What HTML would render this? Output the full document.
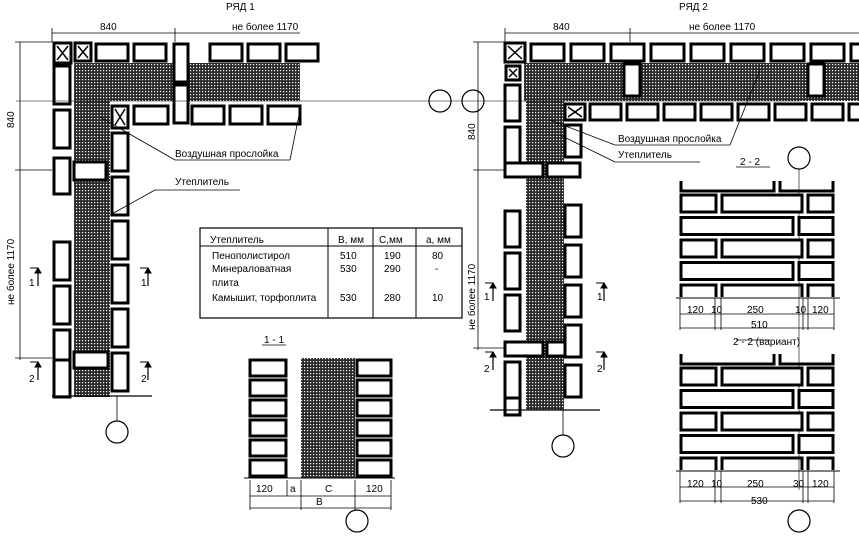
<!DOCTYPE html><html><head><meta charset="utf-8"><style>
body{margin:0;background:#fff}svg{display:block}
text{font-family:"Liberation Sans",sans-serif;font-size:10px;fill:#000}
</style></head><body>
<svg id="s" width="859" height="540" viewBox="0 0 859 540" xmlns="http://www.w3.org/2000/svg">
<defs><pattern id="h" width="3" height="3" patternUnits="userSpaceOnUse"><rect width="3" height="3" fill="#2a2a2a"/><rect x="1" y="1" width="1.2" height="1.2" fill="#fff"/></pattern></defs>
<g id="g" fill="none" stroke="#000"></g>
<text x="226" y="10">РЯД  1</text><text x="679" y="10">РЯД  2</text>
<text x="100" y="30">840</text><text x="232" y="30">не более 1170</text>
<text x="553" y="30">840</text><text x="689" y="30">не более 1170</text>
<text x="175" y="157">Воздушная  прослойка</text><text x="175" y="185">Утеплитель</text>
<text x="618" y="142">Воздушная  прослойка</text><text x="618" y="158">Утеплитель</text>
<text transform="translate(14,128) rotate(-90)">840</text>
<text transform="translate(14,305) rotate(-90)">не более 1170</text>
<text transform="translate(475,140) rotate(-90)">840</text>
<text transform="translate(475,330) rotate(-90)">не более 1170</text>
<text x="29" y="286">1</text><text x="141" y="286">1</text><text x="29" y="382">2</text><text x="141" y="382">2</text>
<text x="484" y="300">1</text><text x="597" y="300">1</text><text x="484" y="372">2</text><text x="597" y="372">2</text>
<text x="264" y="343">1  -  1</text><text x="740" y="165">2  -  2</text><text x="733" y="345">2  -  2 (вариант)</text>
<text x="210" y="243">Утеплитель</text><text x="338" y="243">В, мм</text><text x="379" y="243">С,мм</text><text x="426" y="243">а, мм</text>
<text x="212" y="259">Пенополистирол</text><text x="340" y="259">510</text><text x="384" y="259">190</text><text x="432" y="259">80</text>
<text x="212" y="272">Минераловатная</text><text x="340" y="272">530</text><text x="384" y="272">290</text><text x="435" y="272">-</text>
<text x="212" y="286">плита</text>
<text x="212" y="301">Камышит, торфоплита</text><text x="340" y="301">530</text><text x="384" y="301">280</text><text x="432" y="301">10</text>
<text x="256" y="492">120</text><text x="290" y="492">a</text><text x="325" y="492">C</text><text x="366" y="492">120</text><text x="316" y="505">B</text>
<text x="687" y="313">120</text><text x="711" y="313">10</text><text x="747" y="313">250</text><text x="795" y="313">10</text><text x="812" y="313">120</text><text x="751" y="328">510</text>
<text x="687" y="487">120</text><text x="711" y="487">10</text><text x="747" y="487">250</text><text x="793" y="487">30</text><text x="812" y="487">120</text><text x="751" y="504">530</text>
</svg>
<script>
const g=document.getElementById('g');let o='';
const R=(x,y,w,h,f,sw)=>o+=`<rect x="${x}" y="${y}" width="${w}" height="${h}" fill="${f||'#fff'}" stroke="#000" stroke-width="${f?0:(sw||3)}"/>`;
const L=(a,b,c,d,w)=>o+=`<line x1="${a}" y1="${b}" x2="${c}" y2="${d}" stroke-width="${w||0.8}"/>`;
const C=(x,y)=>o+=`<circle cx="${x}" cy="${y}" r="11" fill="#fff" stroke-width="1.2"/>`;
const X=(x,y,w,h)=>{R(x,y,w,h);L(x+3,y+3,x+w-3,y+h-3,1.5);L(x+w-3,y+3,x+3,y+h-3,1.5)};
// LEFT plan
R(74,63,226,38,'url(#h)');R(74,63,36,334,'url(#h)');
X(54,43,17,20);X(75,43,16,18);for(let x=96;x<300;x+=38){if(x>165&&x<195)continue;R(x,44,32,17)}
R(174,44,14,38);R(174,85,14,38);
for(let y=66;y<360;y+=44)if(y<150||y>200)R(54,y,16,38);R(54,158,16,36);R(54,360,16,37);
R(74,162,32,18);R(74,352,34,16);
X(112,106,16,22);for(let x=192;x<300;x+=38)R(x,106,32,18);R(134,106,34,18);
for(let y=133;y<390;y+=44)R(112,y,16,38);
L(52,396,152,396,1.2);
// RIGHT plan
R(524,63,335,38,'url(#h)');R(526,63,38,347,'url(#h)');
X(505,43,20,19);for(let x=531;x<859;x+=40)R(x,44,33,17);
X(506,66,14,14);R(624,64,16,32);R(808,64,16,32);
for(let y=85;y<410;y+=42)if((y<155||y>180)&&!(y>320&&y<360))R(505,y,15,36);R(505,163,38,14);R(547,163,33,14);R(505,342,38,14);R(547,342,33,14);R(505,362,15,36);
X(565,104,20,16);for(let x=590;x<859;x+=37)R(x,104,31,16);
for(let y=125;y<400;y+=40)if(y<160||y>180)R(565,y,16,32);
L(490,410,600,410,1.2);
// circles & leaders
C(440,101);C(473,101);C(117,432);C(563,446);C(799,158);C(357,521);C(799,521);
L(117,396,117,421);L(563,410,563,435);L(16,101,800,101,0.6);L(799,169,799,490,0.6);
L(100,117,175,160);L(175,160,290,160);L(290,160,300,110);L(110,215,155,190);L(155,190,240,190);
L(550,120,615,145);L(615,145,730,145);L(730,145,760,70);L(560,135,615,162);L(615,162,700,162);
// dims
L(52,33,300,33);L(52,28,52,42);L(175,28,175,42);L(20,42,20,360);L(15,42,52,42);L(15,170,52,170);L(15,358,52,358);
L(505,33,859,33);L(505,28,505,42);L(630,28,630,42);L(478,42,478,350);L(473,42,505,42);L(473,170,505,170);L(473,348,505,348);
for(const [x,y] of [[38,268],[148,268],[38,362],[148,362],[493,283],[604,283],[493,352],[604,352]]){L(x-8,y,x,y,1);L(x,y,x,y+18,1.2);o+=`<path d="M${x-3} ${y+5}L${x} ${y}L${x+3} ${y+5}z" fill="#000"/>`}
// table
R(200,228,262,90,null,1.2);L(200,246,462,246,1);L(328,228,328,318,1);L(373,228,373,318,1);L(416,228,416,318,1);
// 1-1
L(262,345,286,345);
for(let y=358;y<478;y+=20){R(250,y+2,36,16);R(357,y+2,34,16)}
R(301,358,54,120,'url(#h)');L(244,478,395,478,1);
L(250,480,250,510);L(287,480,287,496);L(301,480,301,510);L(355,480,355,510);L(391,480,391,510);L(250,496,391,496);L(250,508,391,508);
// 2-2 sections
function sec(y0,n){L(736,y0-14,770,y0-14);
 // top partial
 o+=`<path d="M681 ${y0}V${y0+10}H774V${y0}M780 ${y0}V${y0+10}H833V${y0}" stroke-width="3"/>`;
 for(let r=0;r<n;r++){const y=y0+14+r*22.5;
  if(r%2==0){R(681,y,35,17);R(722,y,80,17);R(808,y,25,17)}else{R(681,y,112,17);R(799,y,34,17)}}
 const yb=y0+14+n*22.5;
 o+=`<path d="M681 ${yb+12}V${yb}H716V${yb+12}M722 ${yb+12}V${yb}H802V${yb+12}M808 ${yb+12}V${yb}H833V${yb+12}" stroke-width="3"/>`;
 const yd=yb+13;L(676,yd,840,yd,1);[680,715,721,803,808,834].forEach(x=>L(x,yd,x,yd+32));L(680,yd+16,834,yd+16);L(680,yd+30,834,yd+30)}
sec(181,4);sec(354,4);
g.innerHTML=o;
</script>
</body></html>
